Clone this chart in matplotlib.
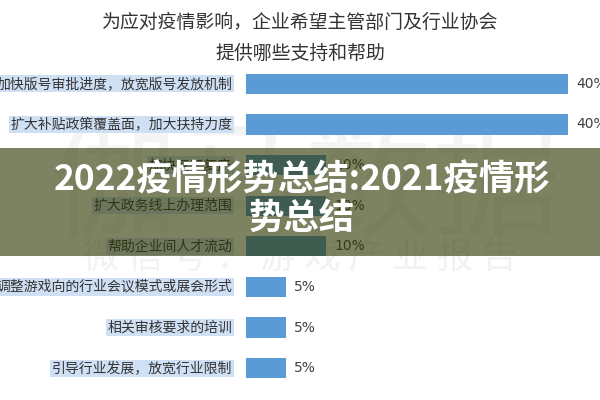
import matplotlib
matplotlib.use("Agg")
import matplotlib.pyplot as plt
from matplotlib.patches import Rectangle

plt.rcParams['font.family'] = ['Noto Sans CJK SC', 'DejaVu Sans']

categories = [
    "加快版号审批进度，放宽版号发放机制",
    "扩大补贴政策覆盖面，加大扶持力度",
    "加快复工复产",
    "扩大政务线上办理范围",
    "帮助企业间人才流动",
    "调整游戏向的行业会议模式或展会形式",
    "相关审核要求的培训",
    "引导行业发展，放宽行业限制",
]
values = [40, 40, 10, 10, 10, 5, 5, 5]
value_labels = ["40%", "40%", "10%", "10%", "10%", "5%", "5%", "5%"]
title = "为应对疫情影响，企业希望主管部门及行业协会\n提供哪些支持和帮助"
banner = "2022疫情形势总结:2021疫情形\n势总结"

W, H = 600, 400
fig = plt.figure(figsize=(6, 4), dpi=100)
fig.patch.set_facecolor('white')

def fx(px):
    return px / W

def fy(py):
    return 1 - py / H

# faint watermark behind everything
fig.text(fx(305), fy(190), "伽马数据", fontsize=92, color='#f4f4f4',
         ha='center', va='center', zorder=0)
fig.text(fx(300), fy(258), "微 信 号 ： 游 戏 产 业 报 告", fontsize=26,
         color='#f2f2f2', ha='center', va='center', zorder=0)

# axes: bars from x=246 (0%) to 568 (40%), rows 84..368
ax = fig.add_axes([fx(246), fy(388.5), fx(568 - 246), (388.5 - 63.5) / H])
ax.set_zorder(1)
ax.set_xlim(0, 40)
ax.set_ylim(len(categories) - 0.5, -0.5)
ax.patch.set_alpha(0)
ax.axis('off')

ypos = list(range(len(categories)))
ax.barh(ypos, values, height=0.5, color='#5b9bd5', zorder=2)
for y, v, lab, cat in zip(ypos, values, value_labels, categories):
    ax.text(v + 1.0, y, lab, fontsize=10, color='#404040',
            ha='left', va='center', family=['DejaVu Sans'])
    ax.text(-1.7, y, cat, fontsize=10, color='#333333', ha='right',
            va='center', clip_on=False,
            bbox=dict(boxstyle='square,pad=0.12', facecolor='#cfe0f4',
                      edgecolor='none'))

fig.text(fx(300), fy(38), title, fontsize=13.6, color='#333333',
         ha='center', va='center', linespacing=1.58)

# overlay banner
fig.patches.append(Rectangle((0, fy(256)), 1, (256 - 148) / H,
                             transform=fig.transFigure, facecolor='#2e3600',
                             alpha=0.62, edgecolor='none', zorder=5))
fig.text(fx(302), fy(199), banner, fontsize=25.5, fontweight='bold',
         color='white', ha='center', va='center', linespacing=1.1, zorder=6)

fig.savefig('out.png', dpi=100, facecolor='white')
